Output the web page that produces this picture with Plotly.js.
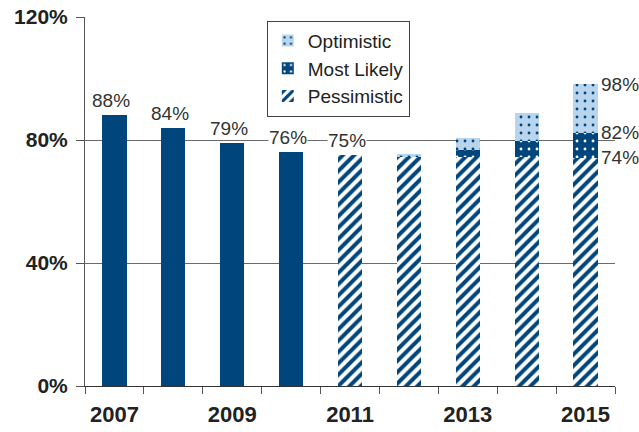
<!DOCTYPE html>
<html>
<head>
<meta charset="utf-8">
<script src="https://cdn.plot.ly/plotly-3.0.1.min.js"></script>
<style>html,body{margin:0;padding:0;background:#fff;}#chart{width:639px;height:432px;}</style>
</head>
<body>
<div id="chart"></div>
<script>
// ---- data ----
var years = [2007, 2008, 2009, 2010, 2011, 2012, 2013, 2014, 2015];
var historical = [88, 84, 79, 76, null, null, null, null, null];
var pessimistic = [null, null, null, null, 75, 74.6, 74.6, 74.6, 74.2];
var mostLikely = [null, null, null, null, 75, 74.6, 76.9, 79.8, 82.3];   // level reached
var optimistic = [null, null, null, null, 75, 75.4, 80.5, 88.8, 98.2];   // level reached

var DARK = '#00457C', LIGHT = '#B9D5EE';
var FONT = 'Liberation Sans, Arial, sans-serif';

function diff(a, b) { return a.map(function (v, i) { return (v == null || b[i] == null) ? null : v - b[i]; }); }
var mlInc = diff(mostLikely, pessimistic);
var optInc = diff(optimistic, mostLikely);

var BW = 0.41;
var traces = [
  { type: 'bar', name: 'Historical', x: years, y: historical, width: BW, showlegend: false,
    marker: { color: DARK, line: { width: 0 } }, hoverinfo: 'skip' },
  { type: 'bar', name: 'Pessimistic', x: years, y: pessimistic, width: BW,
    marker: { color: '#ffffff', line: { width: 0 },
      pattern: { shape: '/', size: 8, solidity: 0.5, fgcolor: DARK, bgcolor: '#ffffff', fillmode: 'replace' } } },
  { type: 'bar', name: 'Most Likely', x: years, y: mlInc, width: BW,
    marker: { color: DARK, line: { width: 0 },
      pattern: { shape: '.', size: 8, solidity: 0.1, fgcolor: '#ffffff', bgcolor: DARK, fillmode: 'replace' } } },
  { type: 'bar', name: 'Optimistic', x: years, y: optInc, width: BW,
    marker: { color: LIGHT, line: { width: 0 },
      pattern: { shape: '.', size: 8, solidity: 0.1, fgcolor: DARK, bgcolor: LIGHT, fillmode: 'replace' } } }
];

var labelFont = { family: FONT, size: 19, color: '#333333' };
var annotations = [];
// labels above bars (historical + first forecast year)
years.forEach(function (yr, i) {
  var v = historical[i] != null ? historical[i] : (i === 4 ? pessimistic[i] : null);
  if (v == null) return;
  annotations.push({ x: yr, y: v, xref: 'x', yref: 'y', text: Math.round(v) + '%',
    showarrow: false, yanchor: 'bottom', xanchor: 'center', yshift: 3, xshift: -3,
    font: labelFont, bgcolor: '#ffffff', borderpad: 0 });
});
// labels right of the last bar
var last = years.length - 1;
[optimistic[last], mostLikely[last], pessimistic[last]].forEach(function (v) {
  annotations.push({ x: years[last], y: v, xref: 'x', yref: 'y', text: Math.round(v) + '%',
    showarrow: false, yanchor: 'middle', xanchor: 'left', xshift: 14,
    font: labelFont, borderpad: 0 });
});

var layout = {
  width: 639, height: 432,
  margin: { l: 85, r: 24, t: 17, b: 46 },
  paper_bgcolor: '#ffffff', plot_bgcolor: '#ffffff',
  barmode: 'stack',
  showlegend: true,
  legend: { x: 0.343, y: 0.99, xanchor: 'left', yanchor: 'top', traceorder: 'reversed',
    bgcolor: '#ffffff', bordercolor: '#444444', borderwidth: 1,
    entrywidth: 120, entrywidthmode: 'pixels',
    font: { family: FONT, size: 19, color: '#222222' }, tracegroupgap: 0 },
  xaxis: { type: 'linear', range: [2006.5, 2015.5], tick0: 2007, dtick: 2, ticks: '',
    ticklabelstandoff: 9,
    minor: { tick0: 2006.5, dtick: 1, ticks: 'outside', ticklen: 7, tickcolor: '#555555', showgrid: false },
    showline: true, linecolor: '#333333', linewidth: 1, showgrid: false, zeroline: false,
    tickfont: { family: FONT, size: 22, color: '#222222', weight: 'bold' } },
  yaxis: { range: [0, 120], tick0: 0, dtick: 40, ticksuffix: '%', ticklabelstandoff: 4,
    ticks: 'outside', ticklen: 8, tickcolor: '#555555', showline: true, linecolor: '#555555', linewidth: 1,
    showgrid: true, gridcolor: '#6a6a6a', gridwidth: 1, zeroline: false,
    tickfont: { family: FONT, size: 21, color: '#222222', weight: 'bold' } },
  annotations: annotations
};

Plotly.newPlot('chart', traces, layout, { displayModeBar: false, staticPlot: true });
</script>
</body>
</html>
